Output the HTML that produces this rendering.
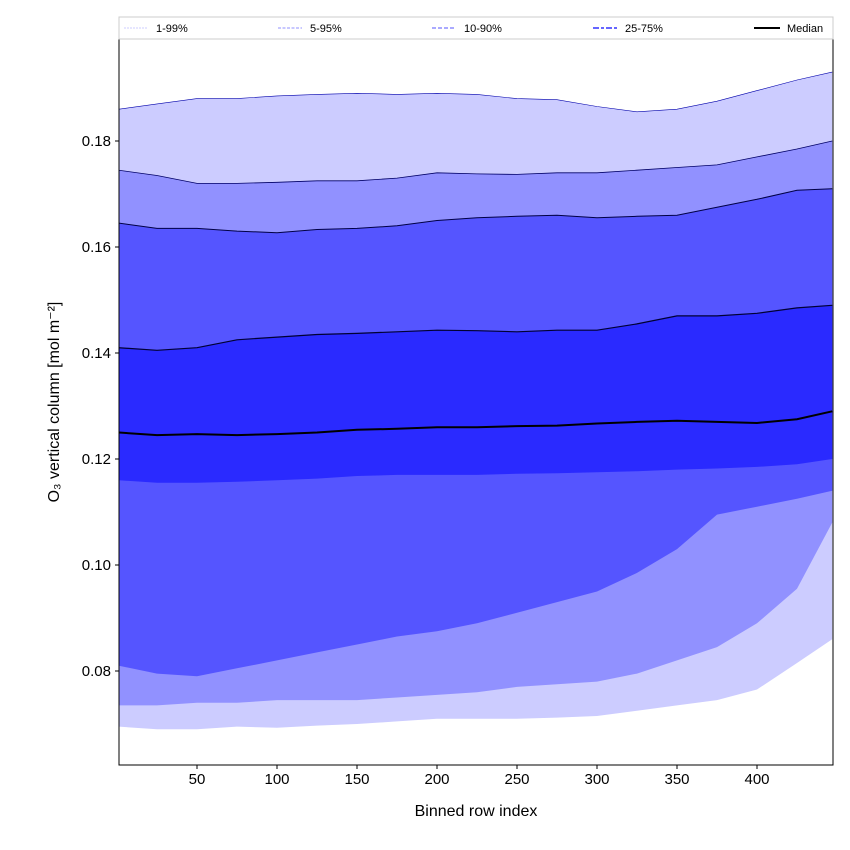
<!DOCTYPE html>
<html><head><meta charset="utf-8"><style>
body{margin:0;background:#fff;}
svg{display:block;font-family:"Liberation Sans","DejaVu Sans",sans-serif;}
</style></head><body>
<svg id="chart" width="850" height="850">
<rect width="850" height="850" fill="#fff"/>
<g id="bands"></g>
<g id="axes"></g>
<g id="legend">
<rect x="119" y="17" width="714" height="22" fill="#fff" stroke="#ccc"/>
<line x1="124" y1="28" x2="148" y2="28" stroke="#ccccff" stroke-dasharray="2,1"/>
<text x="156" y="32" font-size="11">1-99%</text>
<line x1="278" y1="28" x2="302" y2="28" stroke="#9191ff" stroke-dasharray="3,1.5"/>
<text x="310" y="32" font-size="11">5-95%</text>
<line x1="432" y1="28" x2="456" y2="28" stroke="#7777ff" stroke-width="1.3" stroke-dasharray="4,2"/>
<text x="464" y="32" font-size="11">10-90%</text>
<line x1="593" y1="28" x2="617" y2="28" stroke="#6666ff" stroke-width="2" stroke-dasharray="6,2,3,2"/>
<text x="625" y="32" font-size="11">25-75%</text>
<line x1="754" y1="28" x2="780" y2="28" stroke="#000" stroke-width="2"/>
<text x="787" y="32" font-size="11">Median</text>
</g>
</svg>
<script>
const xs=[1,25,50,75,100,125,150,175,200,225,250,275,300,325,350,375,400,425,447];
const p1=[0.0695,0.069,0.069,0.0695,0.0693,0.0697,0.070,0.0705,0.071,0.071,0.071,0.0712,0.0715,0.0725,0.0735,0.0745,0.0765,0.0815,0.086];
const p99=[0.186,0.187,0.188,0.188,0.1885,0.1888,0.189,0.1888,0.189,0.1888,0.188,0.1878,0.1865,0.1855,0.186,0.1875,0.1895,0.1915,0.193];
const p5=[0.0735,0.0735,0.074,0.074,0.0745,0.0745,0.0745,0.075,0.0755,0.076,0.077,0.0775,0.078,0.0795,0.082,0.0845,0.089,0.0955,0.108];
const p95=[0.1745,0.1735,0.172,0.172,0.1722,0.1725,0.1725,0.173,0.174,0.1738,0.1737,0.174,0.174,0.1745,0.175,0.1755,0.177,0.1785,0.18];
const p10=[0.081,0.0795,0.079,0.0805,0.082,0.0835,0.085,0.0865,0.0875,0.089,0.091,0.093,0.095,0.0985,0.103,0.1095,0.111,0.1125,0.114];
const p90=[0.1645,0.1635,0.1635,0.163,0.1627,0.1633,0.1635,0.164,0.165,0.1655,0.1658,0.166,0.1655,0.1658,0.166,0.1675,0.169,0.1707,0.171];
const p25=[0.116,0.1155,0.1155,0.1157,0.116,0.1163,0.1168,0.117,0.117,0.117,0.1172,0.1173,0.1175,0.1177,0.118,0.1182,0.1185,0.119,0.12];
const p75=[0.141,0.1405,0.141,0.1425,0.143,0.1435,0.1437,0.144,0.1443,0.1442,0.144,0.1443,0.1443,0.1455,0.147,0.147,0.1475,0.1485,0.149];
const med=[0.125,0.1245,0.1247,0.1245,0.1247,0.125,0.1255,0.1257,0.126,0.126,0.1262,0.1263,0.1267,0.127,0.1272,0.127,0.1268,0.1275,0.129];
const xTicks=[50,100,150,200,250,300,350,400];
const yTicks=[0.08,0.10,0.12,0.14,0.16,0.18];

const L=119,R=833,T=39,B=765;
const X=v=>197+(v-50)*1.6;
const Y=v=>141+(0.18-v)*5300;
const NS='http://www.w3.org/2000/svg';
function mk(tag,attrs,parent){const e=document.createElementNS(NS,tag);for(const k in attrs)e.setAttribute(k,attrs[k]);parent.appendChild(e);return e;}
const bands=document.getElementById('bands');
mk('clipPath',{id:'clip'},bands).appendChild(Object.assign(document.createElementNS(NS,'rect'),{}));
bands.querySelector('clipPath rect').setAttribute('x',L);
bands.querySelector('clipPath rect').setAttribute('y',T);
bands.querySelector('clipPath rect').setAttribute('width',R-L);
bands.querySelector('clipPath rect').setAttribute('height',B-T);
const g=mk('g',{'clip-path':'url(#clip)'},bands);
function band(lo,hi,fill,name){
  let d='M'+xs.map((x,i)=>X(x).toFixed(1)+','+Y(hi[i]).toFixed(1)).join('L');
  for(let i=xs.length-1;i>=0;i--)d+='L'+X(xs[i]).toFixed(1)+','+Y(lo[i]).toFixed(1);
  const p=mk('path',{d:d+'Z',fill:fill},g);
  
  
}
function line(v,stroke,w,name){
  const p=mk('path',{d:'M'+xs.map((x,i)=>X(x).toFixed(1)+','+Y(v[i]).toFixed(1)).join('L'),fill:'none',stroke:stroke,'stroke-width':w},g);
  
  
}
band(p1,p99,'#ccccff','band-1-99');
band(p5,p95,'#9191ff','band-5-95');
band(p10,p90,'#5555ff','band-10-90');
band(p25,p75,'#2a2aff','band-25-75');
line(p99,'#0000aa',0.6,'line-p99');
line(p95,'#000066',0.8,'line-p95');
line(p90,'#000044',1,'line-p90');
line(p75,'#000033',1.2,'line-p75');
line(med,'#000',2,'median-line');

const ax=document.getElementById('axes');
const fr=mk('rect',{x:L,y:T,width:R-L,height:B-T,fill:'none',stroke:'#000','stroke-width':1},ax);


xTicks.forEach(t=>{
  mk('line',{x1:X(t),x2:X(t),y1:B,y2:B+4,stroke:'#000'},ax);
  const tx=mk('text',{x:X(t),y:B+19,'font-size':15,'text-anchor':'middle'},ax);tx.textContent=t;
  
  
});
yTicks.forEach(t=>{
  mk('line',{x1:L-4,x2:L,y1:Y(t),y2:Y(t),stroke:'#000'},ax);
  const tx=mk('text',{x:L-8,y:Y(t)+5,'font-size':15,'text-anchor':'end'},ax);tx.textContent=t.toFixed(2);
  
  
});
const xt=mk('text',{x:476,y:816,'font-size':16,'text-anchor':'middle'},ax);xt.textContent='Binned row index';


const yt=mk('text',{x:0,y:0,'font-size':16,'text-anchor':'middle',transform:'translate(59,402) rotate(-90)'},ax);yt.textContent='O₃ vertical column [mol m⁻²]';


</script>
</body></html>
